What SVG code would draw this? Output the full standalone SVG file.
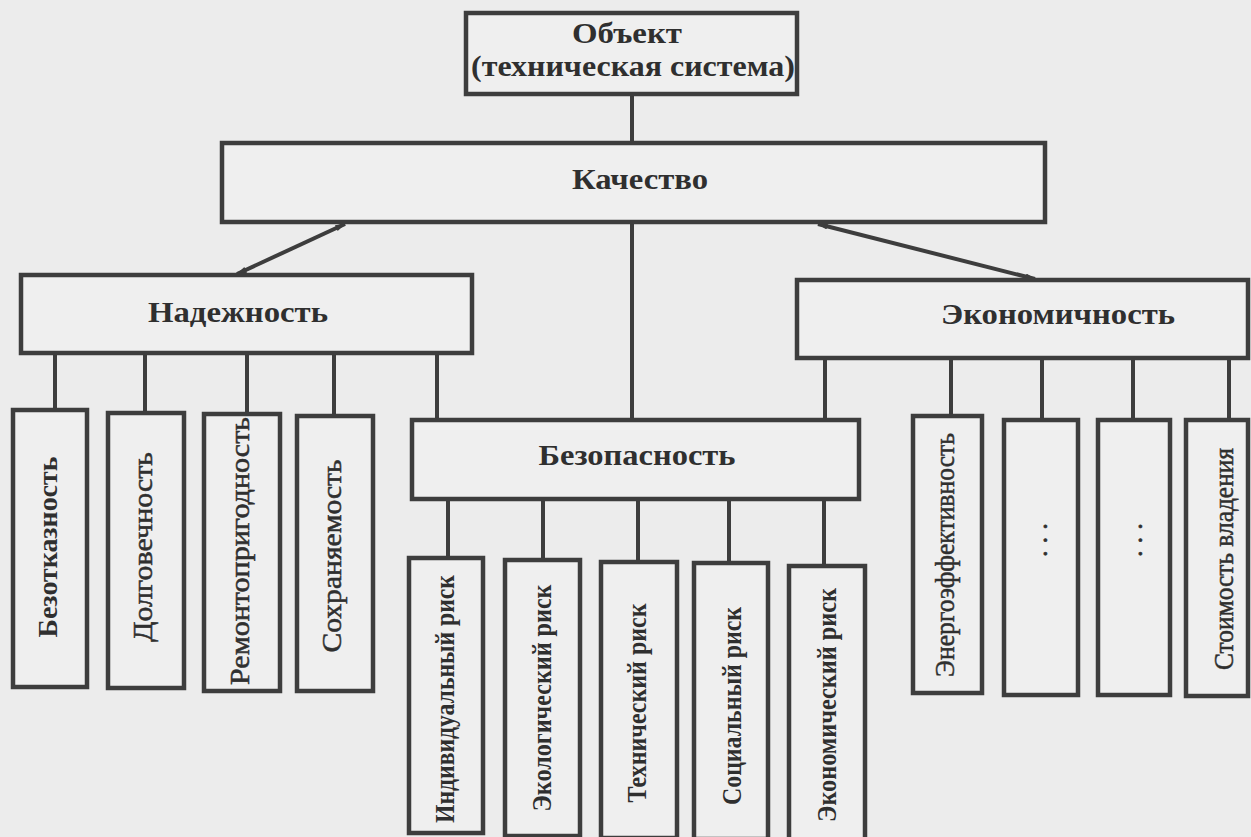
<svg xmlns="http://www.w3.org/2000/svg" width="1251" height="837" viewBox="0 0 1251 837">
<defs>
<style>
.box{fill:#efefef;stroke:#3d3d3d;stroke-width:4.5}
.ln{stroke:#3d3d3d;stroke-width:4;fill:none}
.dg{stroke:#3d3d3d;stroke-width:4;fill:none;marker-start:url(#tip);marker-end:url(#tip)}
.h{font-family:"Liberation Serif","Times New Roman",serif;font-weight:bold;font-size:29px;fill:#2f2f2f;text-anchor:middle}
.v{font-family:"Liberation Serif","Times New Roman",serif;font-size:27px;fill:#2f2f2f;stroke:#2f2f2f;stroke-width:0.5;text-anchor:middle}
.b{font-weight:bold;font-size:28px;stroke:none}
</style>
<marker id="tip" viewBox="0 0 10 6" refX="9" refY="3" markerWidth="3.5" markerHeight="1.6" orient="auto-start-reverse" markerUnits="strokeWidth">
<path d="M0,0 L10,3 L0,6 Z" fill="#3d3d3d"/>
</marker>
</defs>
<rect width="1251" height="837" fill="#ececec"/>

<g id="connectors">
<line class="ln" x1="632" y1="95" x2="632" y2="143"/>
<line class="ln" x1="632" y1="222" x2="632" y2="420"/>
<line class="dg" x1="345" y1="224" x2="237" y2="274"/>
<line class="dg" x1="818" y1="224" x2="1035" y2="279"/>
<line class="ln" x1="55" y1="353" x2="55" y2="410"/>
<line class="ln" x1="145" y1="353" x2="145" y2="413"/>
<line class="ln" x1="247" y1="353" x2="247" y2="414"/>
<line class="ln" x1="334" y1="353" x2="334" y2="416"/>
<line class="ln" x1="437" y1="353" x2="437" y2="420"/>
<line class="ln" x1="825" y1="358" x2="825" y2="420"/>
<line class="ln" x1="951" y1="358" x2="951" y2="416"/>
<line class="ln" x1="1042" y1="358" x2="1042" y2="420"/>
<line class="ln" x1="1133" y1="358" x2="1133" y2="420"/>
<line class="ln" x1="1229" y1="358" x2="1229" y2="420"/>
<line class="ln" x1="448" y1="499" x2="448" y2="558"/>
<line class="ln" x1="543" y1="499" x2="543" y2="560"/>
<line class="ln" x1="638" y1="499" x2="638" y2="562"/>
<line class="ln" x1="729" y1="499" x2="729" y2="563"/>
<line class="ln" x1="824" y1="499" x2="824" y2="566"/>
</g>

<g id="n-object">
<rect class="box" x="466" y="13" width="331" height="81"/>
<text class="h" x="627" y="43" textLength="110" lengthAdjust="spacingAndGlyphs">Объект</text>
<text class="h" x="633" y="76" textLength="324" lengthAdjust="spacingAndGlyphs">(техническая система)</text>
</g>

<g id="n-quality">
<rect class="box" x="222" y="143" width="823" height="79"/>
<text class="h" x="640" y="189" textLength="136" lengthAdjust="spacingAndGlyphs">Качество</text>
</g>

<g id="n-reliability">
<rect class="box" x="21" y="275" width="451" height="78"/>
<text class="h" x="238" y="322" textLength="180" lengthAdjust="spacingAndGlyphs">Надежность</text>
</g>

<g id="n-economy">
<rect class="box" x="797" y="280" width="451" height="78"/>
<text class="h" x="1058" y="324" textLength="234" lengthAdjust="spacingAndGlyphs">Экономичность</text>
</g>

<g id="n-safety">
<rect class="box" x="412" y="420" width="447" height="79"/>
<text class="h" x="637" y="465" textLength="197" lengthAdjust="spacingAndGlyphs">Безопасность</text>
</g>

<g id="n-bezotkaz">
<rect class="box" x="13" y="410" width="74" height="277"/>
<text class="v b" transform="translate(57,547) rotate(-90)" textLength="181" lengthAdjust="spacingAndGlyphs">Безотказность</text>
</g>
<g id="n-dolgovech">
<rect class="box" x="108" y="413" width="76" height="275"/>
<text class="v" transform="translate(152,547) rotate(-90)" textLength="190" lengthAdjust="spacingAndGlyphs">Долговечность</text>
</g>
<g id="n-remont">
<rect class="box" x="204" y="414" width="76" height="277"/>
<text class="v" transform="translate(249,551) rotate(-90)" textLength="268" lengthAdjust="spacingAndGlyphs">Ремонтопригодность</text>
</g>
<g id="n-sohran">
<rect class="box" x="297" y="416" width="76" height="275"/>
<text class="v" transform="translate(341,556) rotate(-90)" textLength="193" lengthAdjust="spacingAndGlyphs">Сохраняемость</text>
</g>

<g id="n-indiv">
<rect class="box" x="409" y="558" width="74" height="275"/>
<text class="v b" transform="translate(454,699) rotate(-90)" textLength="248" lengthAdjust="spacingAndGlyphs">Индивидуальный риск</text>
</g>
<g id="n-ecolog">
<rect class="box" x="505" y="560" width="75" height="276"/>
<text class="v b" transform="translate(551,698) rotate(-90)" textLength="227" lengthAdjust="spacingAndGlyphs">Экологический риск</text>
</g>
<g id="n-tech">
<rect class="box" x="601" y="562" width="76" height="276"/>
<text class="v b" transform="translate(646,703) rotate(-90)" textLength="199" lengthAdjust="spacingAndGlyphs">Технический риск</text>
</g>
<g id="n-social">
<rect class="box" x="694" y="563" width="74" height="276"/>
<text class="v b" transform="translate(741,706) rotate(-90)" textLength="198" lengthAdjust="spacingAndGlyphs">Социальный риск</text>
</g>
<g id="n-econrisk">
<rect class="box" x="789" y="566" width="76" height="274"/>
<text class="v b" transform="translate(836,705) rotate(-90)" textLength="234" lengthAdjust="spacingAndGlyphs">Экономический риск</text>
</g>

<g id="n-energy">
<rect class="box" x="913" y="416" width="69" height="277"/>
<text class="v" transform="translate(954,555) rotate(-90)" textLength="244" lengthAdjust="spacingAndGlyphs">Энергоэффективность</text>
</g>
<g id="n-dots1">
<rect class="box" x="1004" y="420" width="74" height="275"/>
<text class="v" transform="translate(1047,540) rotate(-90)" textLength="34" lengthAdjust="spacing" stroke-width="1.2">. . .</text>
</g>
<g id="n-dots2">
<rect class="box" x="1098" y="420" width="72" height="275"/>
<text class="v" transform="translate(1142,540) rotate(-90)" textLength="34" lengthAdjust="spacing" stroke-width="1.2">. . .</text>
</g>
<g id="n-cost">
<rect class="box" x="1186" y="420" width="62" height="276"/>
<text class="v" transform="translate(1233,559) rotate(-90)" textLength="222" lengthAdjust="spacingAndGlyphs">Стоимость владения</text>
</g>
</svg>
